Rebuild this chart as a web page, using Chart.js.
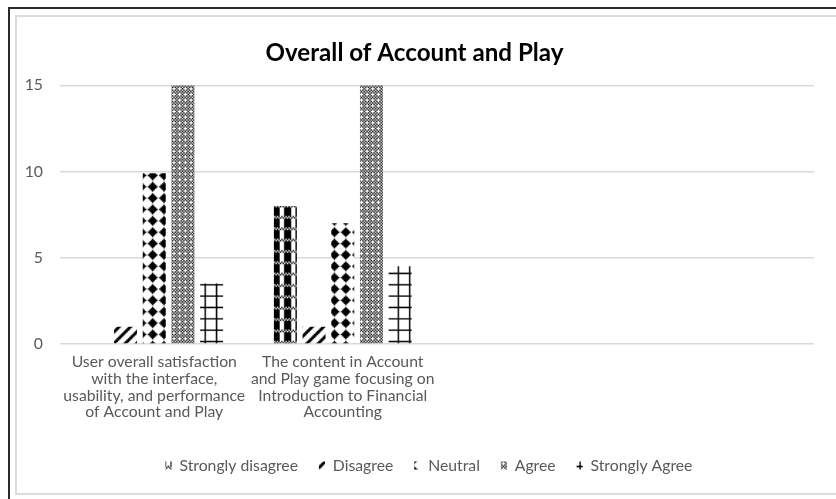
<!DOCTYPE html>
<html>
<head>
<meta charset="utf-8">
<script src="https://cdn.jsdelivr.net/npm/chart.js@4.4.1/dist/chart.umd.min.js"></script>
<style>
  html, body { margin: 0; padding: 0; background: #fff; }
  #wrap { position: relative; width: 836px; height: 499px; overflow: hidden; background: #fff; }
  #frame { position: absolute; left: 8px; top: 7px; width: 900px; height: 600px;
           border-left: 2px solid #2b2b2b; border-top: 2px solid #2b2b2b; }
  #box { position: absolute; left: 15px; top: 15px; width: 900px; height: 476px;
         border: 2px solid #dcdcdc; border-right: none; }
  #chart { position: absolute; left: 0; top: 0; }
</style>
</head>
<body>
<div id="wrap">
  <div id="frame"></div>
  <div id="box"></div>
  <canvas id="chart" width="836" height="499"></canvas>
</div>
<script>
// ---- data ----
const categories = [
  ['User overall satisfaction', 'with the interface,', 'usability, and performance', 'of Account and Play'],
  ['The content in Account', 'and Play game focusing on', 'Introduction to Financial', 'Accounting'],
  '',
  ''
];
const seriesNames = ['Strongly disagree', 'Disagree', 'Neutral', 'Agree', 'Strongly Agree'];
const stronglyDisagree = [0, 8, null, null];
const disagree = [1, 1, null, null];
const neutral = [9.9, 7, null, null];
const agree = [15, 15, null, null];
const stronglyAgree = [3.5, 4.5, null, null];
const yTicks = [0, 5, 10, 15];
const chartTitle = 'Overall of Account and Play';

// ---- fonts sized to the layout ----
const FAMILY = 'Lato';
const mctx = document.createElement('canvas').getContext('2d');
function fitSize(text, weight, width) {
  mctx.font = weight + ' 100px ' + FAMILY;
  return +(100 * width / mctx.measureText(text).width).toFixed(2);
}
const titleSize = fitSize(chartTitle, 'bold', 298);
const textSize = fitSize('usability, and performance', 'normal', 182);

// ---- monochrome fill patterns (8x8 bitmaps, scaled up) ----
function bitmap(fn) {
  const rows = [];
  for (let y = 0; y < 8; y++) {
    let r = '';
    for (let x = 0; x < 8; x++) r += fn(x, y) ? '1' : '0';
    rows.push(r);
  }
  return rows;
}
function makePattern(rows, scale) {
  const c = document.createElement('canvas');
  c.width = rows[0].length; c.height = rows.length;
  const g = c.getContext('2d');
  g.fillStyle = '#ffffff'; g.fillRect(0, 0, c.width, c.height);
  g.fillStyle = '#000000';
  rows.forEach((row, y) => { for (let x = 0; x < row.length; x++) if (row[x] === '1') g.fillRect(x, y, 1, 1); });
  const p = g.createPattern(c, 'repeat');
  p.setTransform(new DOMMatrix().scale(scale));
  return p;
}
const S = 1.42;
const patLadder = makePattern(bitmap((x, y) => y < 2 ? (x + y) % 2 === 0 : (x <= 4)), S);
const patDiagonal = makePattern(bitmap((x, y) => (x + y) % 8 < 3), S);
const patDiamond = makePattern(bitmap((x, y) => Math.abs(x - 3) + Math.abs(y - 3) <= 3 && y < 7), S);
const patDotted = makePattern(bitmap((x, y) => (x + y) % 2 === 0 && !(x % 4 === 2 && y % 4 === 2)), S);
const patGrid = makePattern(bitmap((x, y) => x === 0 || y === 0), S);

const seriesValues = [stronglyDisagree, disagree, neutral, agree, stronglyAgree];
const seriesFills = [patLadder, patDiagonal, patDiamond, patDotted, patGrid];

const datasets = seriesNames.map((name, i) => ({
  label: name,
  data: seriesValues[i],
  backgroundColor: seriesFills[i],
  borderWidth: 0,
  categoryPercentage: 0.761,
  barPercentage: 0.8
}));

// shifts the legend row sideways to its centre line
const legendShift = {
  id: 'legendShift',
  afterLayout(chart) {
    const lg = chart.legend;
    if (!lg) return;
    const dx = 429 - (lg.left + lg.right) / 2;
    lg.left += dx; lg.right += dx;
  }
};

new Chart(document.getElementById('chart'), {
  type: 'bar',
  data: { labels: categories, datasets },
  plugins: [legendShift],
  options: {
    responsive: false,
    animation: false,
    devicePixelRatio: 1,
    layout: { padding: { left: 15, right: 22, top: 20, bottom: 15.5 } },
    plugins: {
      tooltip: { enabled: false },
      title: {
        display: true,
        text: chartTitle,
        color: '#000000',
        font: { family: FAMILY, size: titleSize, weight: 'bold', lineHeight: '28px' },
        padding: { top: 19.5, bottom: 17.8 }
      },
      legend: {
        position: 'bottom',
        labels: {
          color: '#595959',
          font: { family: FAMILY, size: textSize },
          boxWidth: 6,
          boxHeight: 8,
          padding: 21
        }
      }
    },
    scales: {
      x: {
        grid: { display: false },
        border: { display: false },
        ticks: {
          color: '#595959',
          font: { family: FAMILY, size: textSize, lineHeight: '16.7px' },
          padding: 2,
          maxRotation: 0,
          autoSkip: false
        },
        afterFit(scale) { scale.height = 92.8; }
      },
      y: {
        min: 0,
        max: 15,
        grid: { color: '#d9d9d9', lineWidth: 1.4, drawTicks: false },
        border: { display: false },
        ticks: {
          color: '#595959',
          font: { family: FAMILY, size: textSize },
          padding: 17
        },
        afterBuildTicks(scale) { scale.ticks = yTicks.map(v => ({ value: v })); },
        afterFit(scale) { scale.width = 45; }
      }
    }
  }
});
</script>
</body>
</html>
